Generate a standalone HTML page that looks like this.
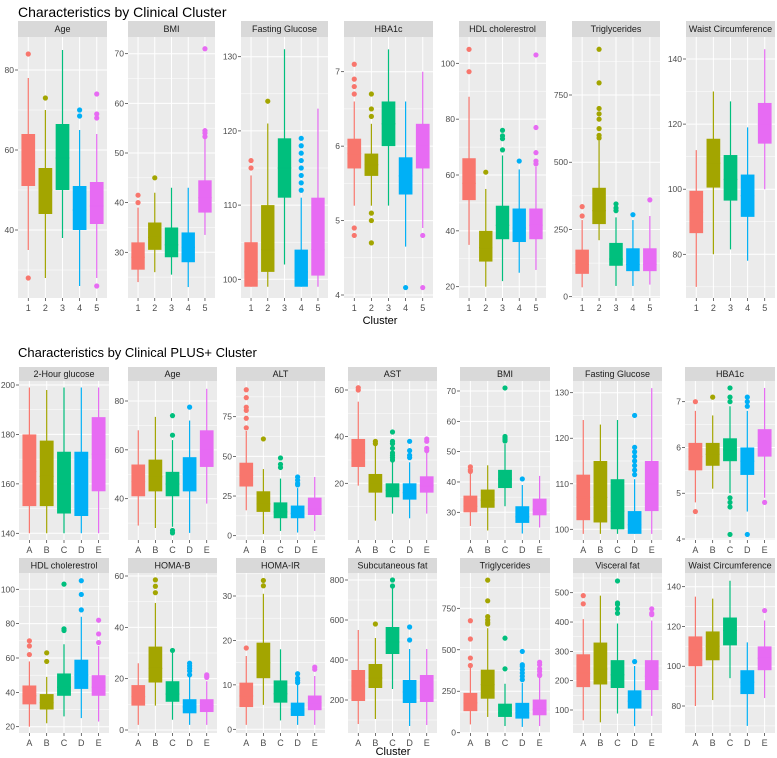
<!DOCTYPE html>
<html><head><meta charset="utf-8">
<style>
html,body{margin:0;padding:0;background:#fff;}
svg{display:block;font-family:"Liberation Sans",sans-serif;}
</style></head>
<body>
<svg id="fig" width="777" height="758" viewBox="0 0 777 758">
<text x="18" y="17" font-size="14" fill="#000">Characteristics by Clinical Cluster</text>
<text x="380" y="324" font-size="11" fill="#000" text-anchor="middle">Cluster</text>
<text x="18" y="357" font-size="13" fill="#000">Characteristics by Clinical PLUS+ Cluster</text>
<text x="393" y="755" font-size="11" fill="#000" text-anchor="middle">Cluster</text>
</svg>
<script>
const colors = ["#F8766D","#A3A500","#00BF7D","#00B0F6","#E76BF3"];
const catsTop = ["1","2","3","4","5"];
const catsBottom = ["A","B","C","D","E"];

// ---- Top: Clinical cluster ----  stats rows: [lowWhisker, q1, median, q3, highWhisker]
const t1Stats = [[35,51,57,64,78],[28,44,50,55.5,70],[38,50,58,66.5,85],[26,40,45,51,65],[28,41.5,46,52,64]];
const t1Out = [[84,28],[73],[],[70,68.5],[74,69,68,26]];
const t1Ticks = [40,60,80];
const t2Stats = [[24,26.5,29,32,39],[26,30.5,33,36,42],[25.5,29,31.5,35,43],[23,28,31,34,43],[33.5,38,41,44.5,53]];
const t2Out = [[41.5,40],[45],[],[],[71,54.5,54,53.3]];
const t2Ticks = [30,40,50,60,70];
const t3Stats = [[99,99,101,105,114],[99,101,104,110,121],[102,111,115,119,131],[99,99,101,104,111],[99,100.5,104,111,123]];
const t3Out = [[116,115],[124],[],[112,113,114,115,116,117,118,119],[]];
const t3Ticks = [100,110,120,130];
const t4Stats = [[5.2,5.7,5.9,6.1,6.6],[5.2,5.6,5.75,5.9,6.3],[5.2,6.0,6.3,6.6,7.3],[4.65,5.35,5.6,5.85,6.6],[4.9,5.7,6.0,6.3,7.0]];
const t4Out = [[7.1,6.9,6.8,6.7,4.9,4.8],[6.7,6.5,6.4,5.1,5.0,4.7],[],[4.1],[4.8,4.1]];
const t4Ticks = [4,5,6,7];
const t5Stats = [[35,51,57,66,88],[20,29,34,40,55],[22,37,42,49,67],[25,36,41,48,62],[26,37,42,48,63]];
const t5Out = [[105,97],[61],[76,74,73,69],[65],[103,77,68,65,64]];
const t5Ticks = [20,40,60,80,100];
const t6Stats = [[35,85,120,175,285],[210,270,320,405,580],[40,115,140,200,295],[40,95,120,180,285],[45,95,120,180,300]];
const t6Out = [[335,300],[920,795,700,680,660,625,600,590],[345,330,320],[305],[360]];
const t6Ticks = [0,250,500,750];
const t7Stats = [[70,86.5,93,99.5,112],[80,100.5,108,115.5,130],[81.5,96.5,103,110.5,127],[78,91.5,98,104.5,119],[100,114,120,126.5,143]];
const t7Out = [[],[],[],[],[]];
const t7Ticks = [80,100,120,140];

// ---- Bottom: Clinical PLUS+ cluster ----
const b1Stats = [[140,151,165,180,199],[140,151,163,177.5,198],[140,148,160,173,199],[140,147,160,173,199],[140,157,172,187,199]];
const b1Out = [[],[],[],[],[]];
const b1Ticks = [140,160,180,200];
const b2Stats = [[29,41,47,54,68],[28,43,49,56,73.5],[28.5,41,46,51,64],[26,43,50,57,72],[38,53,60,68,85]];
const b2Out = [[],[],[74,66,27,26],[77.5],[]];
const b2Ticks = [40,60,80];
const b3Stats = [[16,31,38,46,66],[1,15,20,28,42],[3,11,15,21,36],[2,11,14,19,30],[3,13,17,24,37]];
const b3Out = [[92,87,81,79,74,68],[61],[49,45,43],[37,35,33,32],[]];
const b3Ticks = [0,25,50,75];
const b4Stats = [[19,27,33,39,55],[4,16,20,24,36],[7,14,17,20,30],[5,13,16,20,29],[7,16,19,23,33]];
const b4Out = [[61,60],[38,37],[42,38,37,35,33,32,31,30],[38,34,32,31],[39,38,35,34]];
const b4Ticks = [20,40,60];
const b5Stats = [[25.5,30,32,35.5,43],[24,31.5,34,37.5,45.5],[32,38,41,44,52.5],[23,26.5,28.5,32,39],[25,29,31,34.5,42]];
const b5Out = [[45,44,43.5],[],[71,55,54.5,54,53.5],[41],[]];
const b5Ticks = [30,40,50,60,70];
const b6Stats = [[99,102,107,112,124],[99,101.5,107,115,123],[99,100,104,111,124],[99,99,101,104,111],[99,104,110,115,131]];
const b6Out = [[],[],[],[125,118,117,116,115,114,113,112],[]];
const b6Ticks = [100,110,120,130];
const b7Stats = [[4.8,5.5,5.8,6.1,6.8],[5.1,5.6,5.85,6.1,6.7],[5.0,5.7,5.95,6.2,6.9],[4.6,5.4,5.7,6.0,6.8],[4.9,5.8,6.1,6.4,7.3]];
const b7Out = [[7.0,4.6],[7.1],[7.3,7.1,7.0,4.9,4.8,4.7,4.1],[7.1,7.0,6.9,4.1],[4.8]];
const b7Ticks = [4,5,6,7];
const c1Stats = [[20,33,38,44,58],[22,30,34,39,49],[26,38,43,51,68],[25,42,50,59,84],[23,38,43,50,67]];
const c1Out = [[70,67,62],[63,58],[103,77,76],[105,97,88],[82,74,69]];
const c1Ticks = [20,40,60,80,100];
const c2Stats = [[2,9.5,13,17.5,26],[9.5,18.5,24,32.5,49.5],[4,11,14,19,30],[2,6.5,9,12,21],[2,7,9.5,12,19]];
const c2Out = [[],[58.5,56,53.5],[31],[26,25,24,23,21.5],[21.5,21,20.5]];
const c2Ticks = [0,20,40,60];
const c3Stats = [[1,5,7.5,10.5,16.5],[5.5,11.5,15,19.5,30.5],[2,6,8,11,18],[1,3,4.5,6,10],[1,4.3,6,7.6,12]];
const c3Out = [[18.3],[33.5,32.3],[],[12.5,11.5,11,10.5],[14,13.5]];
const c3Ticks = [0,10,20,30];
const c4Stats = [[80,195,270,350,550],[105,260,310,380,510],[255,430,490,565,760],[70,185,240,300,455],[75,190,250,325,455]];
const c4Out = [[],[580],[800,770],[565,500],[]];
const c4Ticks = [200,400,600,800];
const c5Stats = [[50,130,180,240,395],[95,205,290,380,630],[40,95,120,175,295],[35,85,120,180,300],[40,105,140,200,335]];
const c5Out = [[675,565,450,405],[920,795,700,680,665,655],[570,385],[490,410,400,380,360,340,320],[425,410,385,370,350,345]];
const c5Ticks = [0,250,500,750];
const c6Stats = [[65,178,225,290,410],[58,187,240,330,490],[88,175,220,270,395],[45,105,130,167,250],[80,168,215,270,405]];
const c6Out = [[490,462],[],[540,465,460,445,430],[265],[445,430,425]];
const c6Ticks = [100,200,300,400,500];
const c7Stats = [[80,100,108,115,135],[83,103,110,117.5,134],[94,110.5,118,124.5,143],[70,86,92,98,112],[84,98,104,110,123]];
const c7Out = [[],[],[],[],[128]];
const c7Ticks = [80,100,120,140];

// layout (pixel calibration: tick value -> pixel)
const rows = [
 {sy:21, top:37, bot:298, lab:309, cats:catsTop},
 {sy:367, top:381, bot:540, lab:551, cats:catsBottom},
 {sy:558, top:573, bot:733, lab:744, cats:catsBottom}
];
const panels = [
 {r:0,x0:18,x1:107,t:"Age",s:t1Stats,o:t1Out,k:t1Ticks,c:[80,70,40,230]},
 {r:0,x0:128,x1:215,t:"BMI",s:t2Stats,o:t2Out,k:t2Ticks,c:[70,53.7,30,252.3]},
 {r:0,x0:241,x1:328,t:"Fasting Glucose",s:t3Stats,o:t3Out,k:t3Ticks,c:[130,56.7,100,279.3]},
 {r:0,x0:344,x1:433,t:"HBA1c",s:t4Stats,o:t4Out,k:t4Ticks,c:[7,71.7,4,295]},
 {r:0,x0:459,x1:546,t:"HDL cholerestrol",s:t5Stats,o:t5Out,k:t5Ticks,c:[100,63.3,20,286.7]},
 {r:0,x0:572,x1:660,t:"Triglycerides",s:t6Stats,o:t6Out,k:t6Ticks,c:[750,95,0,296.7]},
 {r:0,x0:686,x1:775,t:"Waist Circumference",s:t7Stats,o:t7Out,k:t7Ticks,c:[140,59,80,254.3]},
 {r:1,x0:19,x1:109,t:"2-Hour glucose",s:b1Stats,o:b1Out,k:b1Ticks,c:[200,385,140,533.3]},
 {r:1,x0:128,x1:217,t:"Age",s:b2Stats,o:b2Out,k:b2Ticks,c:[80,401,40,498.7]},
 {r:1,x0:236,x1:325,t:"ALT",s:b3Stats,o:b3Out,k:b3Ticks,c:[75,416.7,0,535.7]},
 {r:1,x0:348,x1:437,t:"AST",s:b4Stats,o:b4Out,k:b4Ticks,c:[60,390,20,483.3]},
 {r:1,x0:460,x1:550,t:"BMI",s:b5Stats,o:b5Out,k:b5Ticks,c:[70,391,30,512.3]},
 {r:1,x0:573,x1:662,t:"Fasting Glucose",s:b6Stats,o:b6Out,k:b6Ticks,c:[130,392.7,100,529.3]},
 {r:1,x0:685,x1:775,t:"HBA1c",s:b7Stats,o:b7Out,k:b7Ticks,c:[7,401.7,4,539]},
 {r:2,x0:19,x1:109,t:"HDL cholerestrol",s:c1Stats,o:c1Out,k:c1Ticks,c:[100,589.3,20,726.7]},
 {r:2,x0:128,x1:217,t:"HOMA-B",s:c2Stats,o:c2Out,k:c2Ticks,c:[60,576,0,730]},
 {r:2,x0:236,x1:325,t:"HOMA-IR",s:c3Stats,o:c3Out,k:c3Ticks,c:[30,596,0,729.3]},
 {r:2,x0:348,x1:437,t:"Subcutaneous fat",s:c4Stats,o:c4Out,k:c4Ticks,c:[800,580,200,700]},
 {r:2,x0:460,x1:550,t:"Triglycerides",s:c5Stats,o:c5Out,k:c5Ticks,c:[750,608.3,0,732.7]},
 {r:2,x0:573,x1:662,t:"Visceral fat",s:c6Stats,o:c6Out,k:c6Ticks,c:[500,592.7,100,710]},
 {r:2,x0:685,x1:775,t:"Waist Circumference",s:c7Stats,o:c7Out,k:c7Ticks,c:[140,586.7,80,706]}
];

const svg = document.getElementById('fig');
const NS = "http://www.w3.org/2000/svg";
function mk(tag, attrs, parent){
  const e = document.createElementNS(NS, tag);
  for (const a in attrs) e.setAttribute(a, attrs[a]);
  (parent||svg).appendChild(e);
  return e;
}
function slug(s){return s.toLowerCase().replace(/[^a-z0-9]+/g,'-').replace(/^-|-$/g,'');}

panels.forEach((p, pi) => {
  const R = rows[p.r];
  const [v1,y1,v2,y2] = p.c;
  const yS = v => y1 + (v - v1) * (y2 - y1) / (v2 - v1);
  const n = 5, w = p.x1 - p.x0, step = w / (n + 0.2);
  const xS = i => p.x0 + step * (0.6 + i);
  const g = mk('g', {});
  
  
  // strip
  const st = mk('rect', {x:p.x0, y:R.sy, width:w, height:R.top-R.sy, fill:'#D9D9D9'}, g);
  
  
  const stt = mk('text', {x:p.x0+w/2, y:(R.sy+R.top)/2+3.2, 'font-size':9, fill:'#1A1A1A', 'text-anchor':'middle'}, g);
  stt.textContent = p.t;
  
  
  // background
  const bg = mk('rect', {x:p.x0, y:R.top, width:w, height:R.bot-R.top, fill:'#EBEBEB'}, g);
  
  
  // minor grid
  const tk = p.k, d = tk.length>1 ? tk[1]-tk[0] : 1;
  for (let m = tk[0] - d/2; m <= tk[tk.length-1] + d; m += d){
    const yy = yS(m);
    if (yy > R.top && yy < R.bot) mk('line', {x1:p.x0, x2:p.x1, y1:yy, y2:yy, stroke:'#fff', 'stroke-width':0.5}, g);
  }
  // major grid + tick labels
  tk.forEach(v => {
    const yy = yS(v);
    mk('line', {x1:p.x0, x2:p.x1, y1:yy, y2:yy, stroke:'#fff', 'stroke-width':1}, g);
    mk('line', {x1:p.x0-3, x2:p.x0, y1:yy, y2:yy, stroke:'#333', 'stroke-width':0.7}, g);
    const tl = mk('text', {x:p.x0-4, y:yy+3, 'font-size':8.5, fill:'#4D4D4D', 'text-anchor':'end'}, g);
    tl.textContent = v;
    
    
  });
  // vertical grid + x labels
  R.cats.forEach((c, i) => {
    const xx = xS(i);
    mk('line', {x1:xx, x2:xx, y1:R.top, y2:R.bot, stroke:'#fff', 'stroke-width':1}, g);
    mk('line', {x1:xx, x2:xx, y1:R.bot, y2:R.bot+3, stroke:'#333', 'stroke-width':0.7}, g);
    const xl = mk('text', {x:xx, y:R.lab+2, 'font-size':9, fill:'#4D4D4D', 'text-anchor':'middle'}, g);
    xl.textContent = c;
    
    
  });
  // boxes
  const bw = step * 0.8;
  p.s.forEach((s, i) => {
    const xx = xS(i), col = colors[i];
    const bx = mk('g', {}, g);
    
    
    mk('line', {x1:xx, x2:xx, y1:yS(s[0]), y2:yS(s[4]), stroke:col, 'stroke-width':1.2}, bx);
    mk('rect', {x:xx-bw/2, y:yS(s[3]), width:bw, height:Math.max(0.5, yS(s[1])-yS(s[3])), fill:col}, bx);
    mk('line', {x1:xx-bw/2, x2:xx+bw/2, y1:yS(s[2]), y2:yS(s[2]), stroke:col, 'stroke-width':1.2}, bx);
    p.o[i].forEach(v => {
      const pt = mk('circle', {cx:xx, cy:yS(v), r:2.6, fill:col}, bx);
      
      
    });
  });
});
</script>
</body></html>
